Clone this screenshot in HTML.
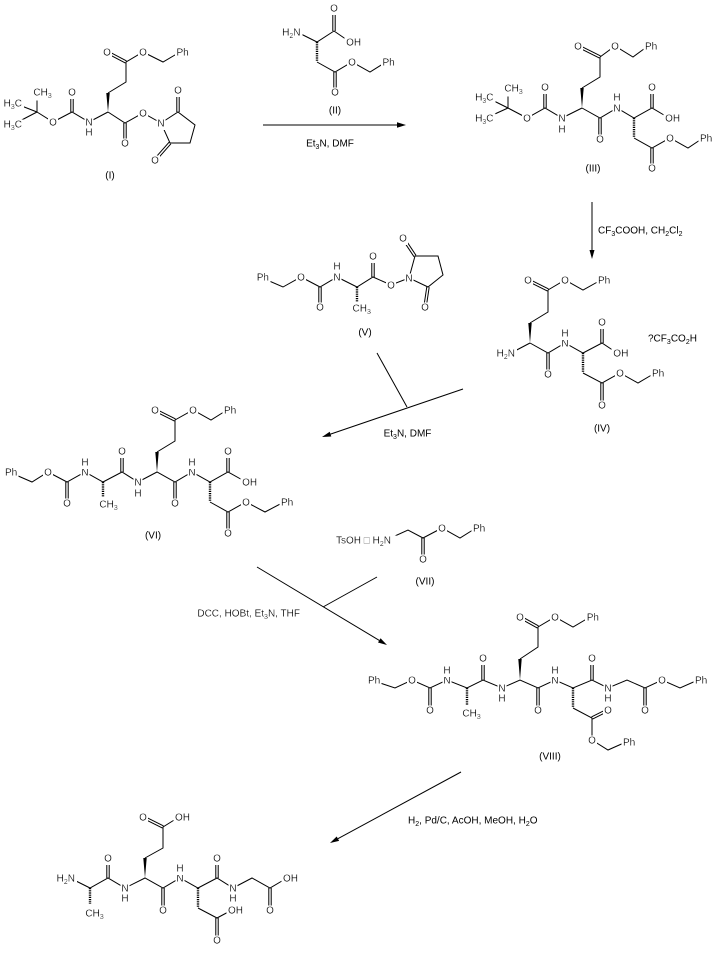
<!DOCTYPE html>
<html><head><meta charset="utf-8"><style>
html,body{margin:0;padding:0;background:#fff;}
svg{display:block;}
svg text{font-family:"Liberation Sans",Arial,sans-serif;font-size:10px;fill:#000;}
.c{text-anchor:middle;filter:url(#bg);}
.s{text-anchor:start;filter:url(#bg);}
.e{text-anchor:end;filter:url(#bg);}
.t{text-anchor:middle;}
.b{fill:none;stroke:#000;stroke-width:1;}
.h{fill:none;stroke:#000;stroke-width:2.4;stroke-dasharray:1.2 1;}
</style></head><body>
<svg width="720" height="953" viewBox="0 0 720 953" xmlns="http://www.w3.org/2000/svg">
<defs><filter id="bg" x="-0.1" y="0" width="1.2" height="1"><feFlood flood-color="#fff"/><feComposite in="SourceGraphic"/></filter></defs>
<rect width="720" height="953" fill="#fff"/>

<!-- (I) -->
<path class="b" d="M37 112L14 103M37 112L14 124M37 112L37 92M37 112L53 122L72 112L89 122L108 112M108 93L126 82L126 62L143 52L163 62L180 52M108 112L125 123L143 113L161 123M161 123L178 112L195 125L190 143L170 143Z
M70.8 112L70.8 92M73.2 112L73.2 92M126.56 60.94L107.56 50.94M125.44 63.06L106.44 53.06M123.8 123L123.8 143M126.2 123L126.2 143M176.8 112L176.8 90M179.2 112L179.2 90M170.9 143.8L155.9 160.8M169.1 142.2L154.1 159.2"/>
<polygon points="108,112 106.3,93 109.7,93"/>

<!-- (II) -->
<path class="b" d="M334 31L350 42M334 31L317 42L297 32M317 62L335 72L352 62L370 72L386 62M332.8 8L332.8 31M335.2 8L335.2 31M333.8 72L333.8 92M336.2 72L336.2 92"/>
<path class="h" d="M317 42L317 61"/>

<!-- arrow 1 -->
<path class="b" d="M263 125L398 125"/>
<polygon points="406,125 397,122.3 397,127.7"/>

<!-- (III) -->
<path class="b" d="M508 108L486 97M508 108L486 118M508 108L508 88M508 108L527 118L545 108L562 118L582 108M582 88L600 77L600 57M600 57L615 46L633 57L648 46M582 108L600 118L617 108L634 118L652 108L669 118M634 138L652 148L670 138L688 148L703 138
M543.8 108L543.8 87M546.2 108L546.2 87M600.54 55.93L578.54 44.93M599.46 58.07L577.46 47.07M598.8 118L598.8 139M601.2 118L601.2 139M650.8 108L650.8 87M653.2 108L653.2 87M650.8 148L650.8 168M653.2 148L653.2 168"/>
<polygon points="582,108 580.3,88 583.7,88"/>
<path class="h" d="M634 118L634 137"/>

<!-- arrow 2 -->
<path class="b" d="M592 202L592 250"/>
<polygon points="592,259 589.5,250 594.5,250"/>

<!-- (IV) -->
<path class="b" d="M548 290L565 280L583 290L601 280M548 290L548 312L530 323M530 343L511 353M530 343L548 353L565 343L583 353L602 343L617 353M583 373L602 383L620 373L638 383L655 373
M527.46 281.07L547.46 291.07M528.54 278.93L548.54 288.93M546.8 353L546.8 374M549.2 353L549.2 374M600.8 343L600.8 322M603.2 343L603.2 322M600.8 383L600.8 405M603.2 383L603.2 405"/>
<polygon points="530,343 528.3,323 531.7,323"/>
<path class="h" d="M583 353L583 372"/>

<!-- (V) -->
<path class="b" d="M260 277L283 287L301 277L320 287L337 277L357 287L373 277L391 285L409 278M409 278L415 256L438 256L443 275L428 287Z
M318.8 287L318.8 307M321.2 287L321.2 307M371.8 277L371.8 256M374.2 277L374.2 256M416 255.33L404 237.33M414 256.67L402 238.67M429.19 287.18L426.19 307.18M426.81 286.82L423.81 306.82"/>
<path class="h" d="M357 287L357 302"/>

<!-- arrow 3 -->
<path class="b" d="M463 389L330.5 434.1M377 353L407 407"/>
<polygon points="322,437 331.3,436.5 329.7,431.7"/>

<!-- (VI) -->
<path class="b" d="M9 472L32 482L48 472L67 482L85 472L103 482L122 472L138 482L157 472L175 482L192 472L210 482L228 472L246 482M157 452L175 441L175 420L193 410L211 420L227 410M210 502L228 512L246 502L265 512L284 502
M65.8 482L65.8 503M68.2 482L68.2 503M120.8 472L120.8 451M123.2 472L123.2 451M175.54 418.93L155.54 408.93M174.46 421.07L154.46 411.07M173.8 482L173.8 503M176.2 482L176.2 503M226.8 472L226.8 451M229.2 472L229.2 451M226.8 512L226.8 533M229.2 512L229.2 533"/>
<polygon points="157,472 155.3,452 158.7,452"/>
<path class="h" d="M103 482L103 497M210 482L210 501"/>

<!-- (VII) -->
<path class="b" d="M386 540L408 530L423 538L442 528L460 538L476 528M421.8 538L421.8 559M424.2 538L424.2 559"/>

<!-- arrow 4 -->
<path class="b" d="M257 567L379.3 640.4M377 577L323 607"/>
<polygon points="387,645 378,642.5 380.6,638.3"/>

<!-- (VIII) -->
<path class="b" d="M371 680L395 688L412 680L430 688L447 680L467 688L483 680L502 688L520 680L538 688L555 680L573 688L592 680L608 688L627 680L645 688L662 680L680 688L698 680M520 659L538 647L538 627L555 617L573 627L590 617M573 708L592 718L592 740L608 750L626 742
M428.8 688L428.8 710M431.2 688L431.2 710M481.8 680L481.8 658M484.2 680L484.2 658M538.58 625.95L520.58 615.95M537.42 628.05L519.42 618.05M536.8 688L536.8 710M539.2 688L539.2 710M590.8 680L590.8 658M593.2 680L593.2 658M643.8 688L643.8 710M646.2 688L646.2 710M592.54 719.07L608.54 711.07M591.46 716.93L607.46 708.93"/>
<polygon points="520,680 518.3,659 521.7,659"/>
<path class="h" d="M467 688L467 705M573 688L573 707"/>

<!-- arrow 5 -->
<path class="b" d="M461 772L337.9 838.7"/>
<polygon points="330,843 339.1,840.9 336.7,836.5"/>

<!-- final -->
<path class="b" d="M70 878L90 888L108 878L125 888L145 878L163 888L180 878L198 888L217 878L233 888L252 878L270 888L287 878M145 858L163 848L163 827L179 817M198 908L217 918L232 910
M106.8 878L106.8 858M109.2 878L109.2 858M163.54 825.93L143.54 815.93M162.46 828.07L142.46 818.07M161.8 888L161.8 910M164.2 888L164.2 910M215.8 878L215.8 858M218.2 878L218.2 858M268.8 888L268.8 910M271.2 888L271.2 910M215.8 918L215.8 940M218.2 918L218.2 940"/>
<polygon points="145,878 143.3,858 146.7,858"/>
<path class="h" d="M90 888L90 904M198 888L198 907"/>

<!-- ===== LABELS ===== -->
<!-- (I) -->
<text class="e" x="22" y="106.6">H<tspan dy="2.5" font-size="7">3</tspan><tspan dy="-2.5">C</tspan></text>
<text class="s" x="33.4" y="95.6">CH<tspan dy="2.5" font-size="7">3</tspan></text>
<text class="e" x="22" y="127.6">H<tspan dy="2.5" font-size="7">3</tspan><tspan dy="-2.5">C</tspan></text>
<text class="c" x="53" y="125.6">O</text>
<text class="c" x="72" y="95.6">O</text>
<text class="c" x="89" y="125.6">N</text>
<text class="c" x="89" y="135.6">H</text>
<text class="c" x="107" y="55.6">O</text>
<text class="c" x="143" y="55.6">O</text>
<text class="s" x="176.5" y="55.6">Ph</text>
<text class="c" x="125" y="146.6">O</text>
<text class="c" x="143" y="116.6">O</text>
<text class="c" x="161" y="126.6">N</text>
<text class="c" x="178" y="93.6">O</text>
<text class="c" x="155" y="163.6">O</text>
<text class="t" x="110" y="178.6">(I)</text>

<!-- (II) -->
<text class="c" x="334" y="11.6">O</text>
<text class="s" x="346.1" y="45.6">OH</text>
<text class="e" x="300.5" y="35.6">H<tspan dy="2.5" font-size="7">2</tspan><tspan dy="-2.5">N</tspan></text>
<text class="c" x="335" y="95.6">O</text>
<text class="c" x="352" y="65.6">O</text>
<text class="s" x="382.5" y="65.6">Ph</text>
<text class="t" x="335" y="113.6">(II)</text>
<text class="t" x="330" y="146.6">Et<tspan dy="2.5" font-size="7">3</tspan><tspan dy="-2.5">N, DMF</tspan></text>

<!-- (III) -->
<text class="e" x="493.5" y="100.6">H<tspan dy="2.5" font-size="7">3</tspan><tspan dy="-2.5">C</tspan></text>
<text class="s" x="504.4" y="91.6">CH<tspan dy="2.5" font-size="7">3</tspan></text>
<text class="e" x="493.5" y="121.6">H<tspan dy="2.5" font-size="7">3</tspan><tspan dy="-2.5">C</tspan></text>
<text class="c" x="527" y="121.6">O</text>
<text class="c" x="545" y="90.6">O</text>
<text class="c" x="562" y="121.6">N</text>
<text class="c" x="562" y="132.6">H</text>
<text class="c" x="578" y="49.6">O</text>
<text class="c" x="615" y="49.6">O</text>
<text class="s" x="645" y="49.6">Ph</text>
<text class="c" x="600" y="142.6">O</text>
<text class="c" x="617" y="111.6">N</text>
<text class="c" x="617" y="100.6">H</text>
<text class="c" x="652" y="90.6">O</text>
<text class="s" x="665.1" y="121.6">OH</text>
<text class="c" x="652" y="171.6">O</text>
<text class="c" x="670" y="141.6">O</text>
<text class="s" x="700" y="141.6">Ph</text>
<text class="t" x="593" y="171.6">(III)</text>
<text x="598" y="233.6">CF<tspan dy="2.5" font-size="7">3</tspan><tspan dy="-2.5">COOH, CH</tspan><tspan dy="2.5" font-size="7">2</tspan><tspan dy="-2.5">Cl</tspan><tspan dy="2.5" font-size="7">2</tspan></text>

<!-- (IV) -->
<text class="c" x="528" y="283.6">O</text>
<text class="c" x="565" y="283.6">O</text>
<text class="s" x="598" y="283.6">Ph</text>
<text class="e" x="515" y="356.6">H<tspan dy="2.5" font-size="7">2</tspan><tspan dy="-2.5">N</tspan></text>
<text class="c" x="548" y="377.6">O</text>
<text class="c" x="565" y="346.6">N</text>
<text class="c" x="565" y="336.6">H</text>
<text class="c" x="602" y="325.6">O</text>
<text class="s" x="613.3" y="356.6">OH</text>
<text class="c" x="602" y="408.6">O</text>
<text class="c" x="620" y="376.6">O</text>
<text class="s" x="652" y="376.6">Ph</text>
<text x="648" y="341.6">?CF<tspan dy="2.5" font-size="7">3</tspan><tspan dy="-2.5">CO</tspan><tspan dy="2.5" font-size="7">2</tspan><tspan dy="-2.5">H</tspan></text>
<text class="t" x="602" y="431.6">(IV)</text>

<!-- (V) -->
<text class="s" x="256.7" y="280.6">Ph</text>
<text class="c" x="301" y="280.6">O</text>
<text class="c" x="320" y="310.6">O</text>
<text class="c" x="337" y="280.6">N</text>
<text class="c" x="337" y="269.6">H</text>
<text class="s" x="352.5" y="311.6">CH<tspan dy="2.5" font-size="7">3</tspan></text>
<text class="c" x="373" y="259.6">O</text>
<text class="c" x="391" y="288.6">O</text>
<text class="c" x="409" y="281.6">N</text>
<text class="c" x="403" y="241.6">O</text>
<text class="c" x="425" y="310.6">O</text>
<text class="t" x="365" y="335.6">(V)</text>
<text class="t" x="407.5" y="436.6">Et<tspan dy="2.5" font-size="7">3</tspan><tspan dy="-2.5">N, DMF</tspan></text>

<!-- (VI) -->
<text class="s" x="5" y="475.6">Ph</text>
<text class="c" x="48" y="475.6">O</text>
<text class="c" x="67" y="506.6">O</text>
<text class="c" x="85" y="475.6">N</text>
<text class="c" x="85" y="465.6">H</text>
<text class="s" x="99.4" y="507.6">CH<tspan dy="2.5" font-size="7">3</tspan></text>
<text class="c" x="122" y="454.6">O</text>
<text class="c" x="138" y="485.6">N</text>
<text class="c" x="138" y="496.6">H</text>
<text class="c" x="155" y="413.6">O</text>
<text class="c" x="193" y="413.6">O</text>
<text class="s" x="224" y="413.6">Ph</text>
<text class="c" x="175" y="506.6">O</text>
<text class="c" x="192" y="475.6">N</text>
<text class="c" x="192" y="465.6">H</text>
<text class="c" x="228" y="454.6">O</text>
<text class="s" x="242.1" y="485.6">OH</text>
<text class="c" x="228" y="536.6">O</text>
<text class="c" x="246" y="505.6">O</text>
<text class="s" x="281" y="505.6">Ph</text>
<text class="t" x="153" y="538.6">(VI)</text>

<!-- (VII) -->
<text class="e" x="391" y="543.6">TsOH □ H<tspan dy="2.5" font-size="7">2</tspan><tspan dy="-2.5">N</tspan></text>
<text class="c" x="442" y="531.6">O</text>
<text class="s" x="473" y="531.6">Ph</text>
<text class="c" x="423" y="562.6">O</text>
<text class="t" x="425" y="584.6">(VII)</text>
<text class="e" x="300" y="616.6">DCC, HOBt, Et<tspan dy="2.5" font-size="7">3</tspan><tspan dy="-2.5">N, THF</tspan></text>

<!-- (VIII) -->
<text class="s" x="368" y="683.6">Ph</text>
<text class="c" x="412" y="683.6">O</text>
<text class="c" x="430" y="713.6">O</text>
<text class="c" x="447" y="683.6">N</text>
<text class="c" x="447" y="673.6">H</text>
<text class="s" x="462.4" y="716.6">CH<tspan dy="2.5" font-size="7">3</tspan></text>
<text class="c" x="483" y="661.6">O</text>
<text class="c" x="502" y="691.6">N</text>
<text class="c" x="502" y="701.6">H</text>
<text class="c" x="520" y="620.6">O</text>
<text class="c" x="555" y="620.6">O</text>
<text class="s" x="586.7" y="620.6">Ph</text>
<text class="c" x="538" y="713.6">O</text>
<text class="c" x="555" y="683.6">N</text>
<text class="c" x="555" y="673.6">H</text>
<text class="c" x="592" y="661.6">O</text>
<text class="c" x="608" y="691.6">N</text>
<text class="c" x="608" y="701.6">H</text>
<text class="c" x="645" y="713.6">O</text>
<text class="c" x="662" y="683.6">O</text>
<text class="s" x="695" y="683.6">Ph</text>
<text class="c" x="608" y="713.6">O</text>
<text class="c" x="592" y="743.6">O</text>
<text class="s" x="623" y="745.6">Ph</text>
<text class="t" x="550" y="759.6">(VIII)</text>
<text x="408" y="823.6">H<tspan dy="2.5" font-size="7">2</tspan><tspan dy="-2.5">, Pd/C, AcOH, MeOH, H</tspan><tspan dy="2.5" font-size="7">2</tspan><tspan dy="-2.5">O</tspan></text>

<!-- final -->
<text class="e" x="75" y="881.6">H<tspan dy="2.5" font-size="7">2</tspan><tspan dy="-2.5">N</tspan></text>
<text class="s" x="85.4" y="916.6">CH<tspan dy="2.5" font-size="7">3</tspan></text>
<text class="c" x="108" y="861.6">O</text>
<text class="c" x="125" y="891.6">N</text>
<text class="c" x="125" y="901.6">H</text>
<text class="c" x="143" y="820.6">O</text>
<text class="s" x="175" y="820.6">OH</text>
<text class="c" x="163" y="913.6">O</text>
<text class="c" x="180" y="881.6">N</text>
<text class="c" x="180" y="871.6">H</text>
<text class="c" x="217" y="861.6">O</text>
<text class="c" x="233" y="891.6">N</text>
<text class="c" x="233" y="901.6">H</text>
<text class="c" x="270" y="913.6">O</text>
<text class="s" x="283" y="881.6">OH</text>
<text class="s" x="228" y="913.6">OH</text>
<text class="c" x="217" y="943.6">O</text>
</svg>
</body></html>
